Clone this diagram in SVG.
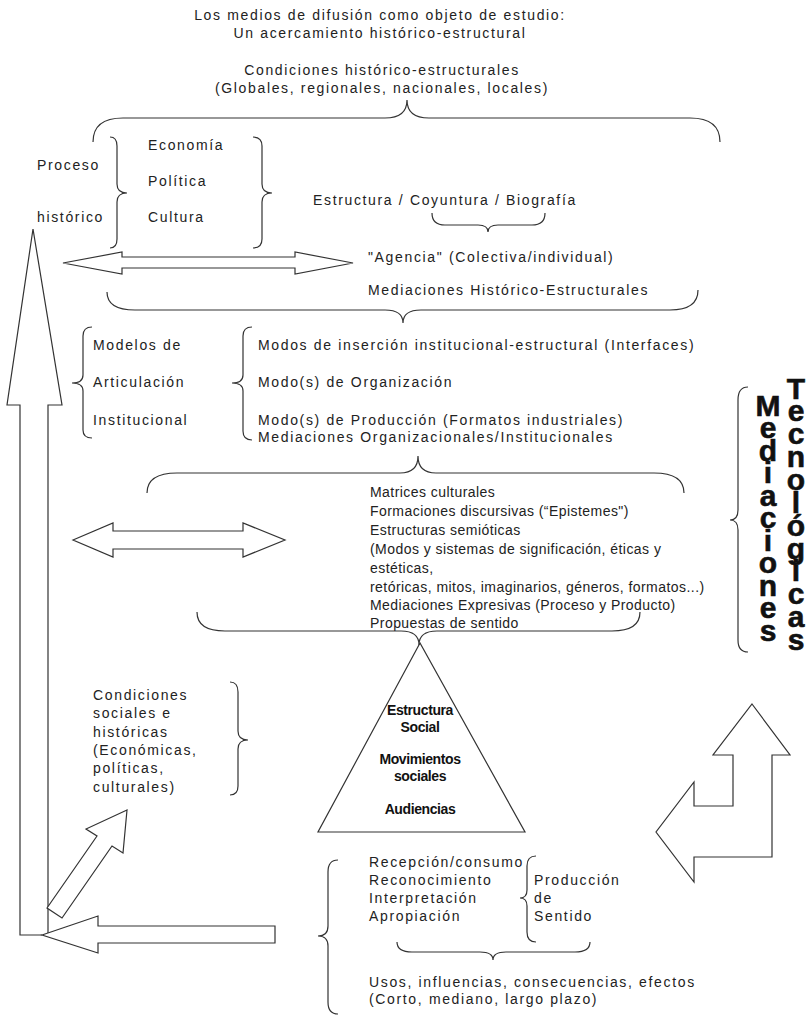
<svg xmlns="http://www.w3.org/2000/svg" width="807" height="1035" viewBox="0 0 807 1035">
<style>
.t{font-family:"Liberation Sans",Arial,sans-serif;font-size:14px;letter-spacing:1.65px;fill:#222}
.n{letter-spacing:0.45px}
.c{text-anchor:middle}
.b{font-family:"Liberation Sans",Arial,sans-serif;font-size:14px;font-weight:bold;letter-spacing:-0.4px;text-anchor:middle;fill:#111}
.v{font-family:"Liberation Sans",Arial,sans-serif;font-size:30px;font-weight:bold;text-anchor:middle;fill:#111;stroke:#111;stroke-width:0.6}
.ln{fill:none;stroke:#333;stroke-width:1.2}
.ar{fill:#fff;stroke:#333;stroke-width:1.2;stroke-linejoin:miter}
</style>
<rect width="807" height="1035" fill="#fff"/>
<g id="title">
<text class="t c" x="380" y="20">Los medios de difusión como objeto de estudio:</text>
<text class="t c" x="380" y="38">Un acercamiento histórico-estructural</text>
</g>
<g id="condiciones">
<text class="t c" x="382" y="75">Condiciones histórico-estructurales</text>
<text class="t c" x="382" y="93">(Globales, regionales, nacionales, locales)</text>
</g>
<g id="proceso">
<text class="t" x="37" y="170">Proceso</text>
<text class="t" x="37" y="222">histórico</text>
</g>
<g id="ecopolcul">
<text class="t" x="148" y="150">Economía</text>
<text class="t" x="148" y="186">Política</text>
<text class="t" x="148" y="222">Cultura</text>
</g>
<g id="estructura">
<text class="t" x="313" y="205">Estructura / Coyuntura / Biografía</text>
</g>
<g id="agencia">
<text class="t" x="368" y="262">"Agencia" (Colectiva/individual)</text>
<text class="t" x="368" y="295">Mediaciones Histórico-Estructurales</text>
</g>
<g id="modelos">
<text class="t" x="93" y="350">Modelos de</text>
<text class="t" x="93" y="387">Articulación</text>
<text class="t" x="93" y="425">Institucional</text>
</g>
<g id="modos">
<text class="t" x="258" y="350">Modos de inserción institucional-estructural (Interfaces)</text>
<text class="t" x="258" y="387">Modo(s) de Organización</text>
<text class="t" x="258" y="425">Modo(s) de Producción (Formatos industriales)</text>
<text class="t" x="258" y="442">Mediaciones Organizacionales/Institucionales</text>
</g>
<g id="matrices">
<text class="t n" x="370" y="497">Matrices culturales</text>
<text class="t n" x="370" y="516">Formaciones discursivas (“Epistemes")</text>
<text class="t n" x="370" y="535">Estructuras semióticas</text>
<text class="t n" x="370" y="554">(Modos y sistemas de significación, éticas y</text>
<text class="t n" x="370" y="573">estéticas,</text>
<text class="t n" x="370" y="592">retóricas, mitos, imaginarios, géneros, formatos...)</text>
<text class="t n" x="370" y="610">Mediaciones Expresivas (Proceso y Producto)</text>
<text class="t n" x="370" y="628">Propuestas de sentido</text>
</g>
<g id="triangulo">
<polygon class="ar" points="420,643 318,832 525,832"/>
<text class="b" x="420" y="715">Estructura</text>
<text class="b" x="420" y="732">Social</text>
<text class="b" x="420" y="764">Movimientos</text>
<text class="b" x="420" y="781">sociales</text>
<text class="b" x="420" y="814">Audiencias</text>
</g>
<g id="mediaciones-tecnologicas">
<text class="v" x="768 768 768 768 768 768 768 768 768 768 768" y="415.5 438 460.6 483.1 505.7 528.2 550.8 573.3 595.9 618.4 641">Mediaciones</text>
<text class="v" x="796 796 796 796 796 796 796 796 796 796 796 796" y="398.5 421.4 444.2 467.1 489.9 512.8 535.7 558.5 581.4 604.2 627.1 650">Tecnológicas</text>
</g>
<g id="condiciones-sociales">
<text class="t" x="93" y="700">Condiciones</text>
<text class="t" x="93" y="718">sociales e</text>
<text class="t" x="93" y="737">históricas</text>
<text class="t" x="93" y="755">(Económicas,</text>
<text class="t" x="93" y="773">políticas,</text>
<text class="t" x="93" y="792">culturales)</text>
</g>
<g id="recepcion">
<text class="t" x="369" y="867">Recepción/consumo</text>
<text class="t" x="369" y="885">Reconocimiento</text>
<text class="t" x="369" y="903">Interpretación</text>
<text class="t" x="369" y="921">Apropiación</text>
</g>
<g id="produccion">
<text class="t" x="534" y="885">Producción</text>
<text class="t" x="534" y="903">de</text>
<text class="t" x="534" y="921">Sentido</text>
</g>
<g id="usos">
<text class="t" x="369" y="987">Usos, influencias, consecuencias, efectos</text>
<text class="t" x="369" y="1004">(Corto, mediano, largo plazo)</text>
</g>
<g id="connectors">
<path class="ln" d="M93,142 Q93,118 123,118 L385,118 Q407,118 407,100 Q407,118 429,118 L690,118 Q720,118 720,142"/>
<path class="ln" d="M110,137 Q117,137 117,146 L117,184 Q117,193 127,193 Q117,193 117,202 L117,239 Q117,248 110,248"/>
<path class="ln" d="M253,137 Q262,137 262,146 L262,184 Q262,193 272,193 Q262,193 262,202 L262,239 Q262,248 253,248"/>
<path class="ln" d="M432,213 Q432,225 445,225 L478,225 Q488,225 488,232 Q488,225 498,225 L532,225 Q545,225 545,213"/>
<polygon class="ar" points="63,263 122,252 122,257 295,257 295,252 353,263 295,274 295,268 122,268 122,274"/>
<path class="ln" d="M107,292 Q107,310 135,310 L385,310 Q403,310 403,323 Q403,310 421,310 L670,310 Q698,310 698,290"/>
<path class="ln" d="M92,327 Q83,327 83,336 L83,375 Q83,383 72,383 Q83,383 83,391 L83,430 Q83,438 92,438"/>
<path class="ln" d="M252,327 Q243,327 243,336 L243,375 Q243,383 232,383 Q243,383 243,391 L243,431 Q243,440 252,440"/>
<path class="ln" d="M147,493 Q147,473 177,473 L400,473 Q418,473 418,456 Q418,473 436,473 L654,473 Q684,473 684,493"/>
<polygon class="ar" points="73,540 113,523 113,531 243,531 243,523 285,540 243,557 243,549 113,549 113,557"/>
<path class="ln" d="M197,612 Q197,631 225,631 L401,631 Q419,631 419,645 Q419,631 437,631 L612,631 Q640,631 640,612"/>
<path class="ln" d="M748,387 Q738,387 738,400 L738,510 Q738,520 730,520 Q738,520 738,530 L738,640 Q738,652 748,652"/>
<path class="ln" d="M230,682 Q238,682 238,692 L238,731 Q238,740 248,740 Q238,740 238,749 L238,786 Q238,795 230,795"/>
<polyline class="ar" points="42,935 20,935 20,405 7,405 33,229 62,405 48,405 48,933"/>
<polygon class="ar" points="42,935 98,916 98,926 275,926 275,943 98,943 98,953"/>
<polygon class="ar" points="127,810 86,829 97,836 47,908 62,918 112,846 123,853"/>
<polygon class="ar" points="752,704 790,755 772,755 772,857 694,857 694,882 656,832 694,782 694,806 733,806 733,755 713,755"/>
<path class="ln" d="M338,860 Q328,860 328,872 L328,926 Q328,936 318,936 Q328,936 328,946 L328,1002 Q328,1014 338,1014"/>
<path class="ln" d="M536,856 Q527,856 527,866 L527,890 Q527,898 520,898 Q527,898 527,906 L527,932 Q527,942 536,942"/>
<path class="ln" d="M397,942 Q397,952 412,952 L480,952 Q493,952 493,960 Q493,952 506,952 L575,952 Q590,952 590,942"/>
</g>
</svg>
